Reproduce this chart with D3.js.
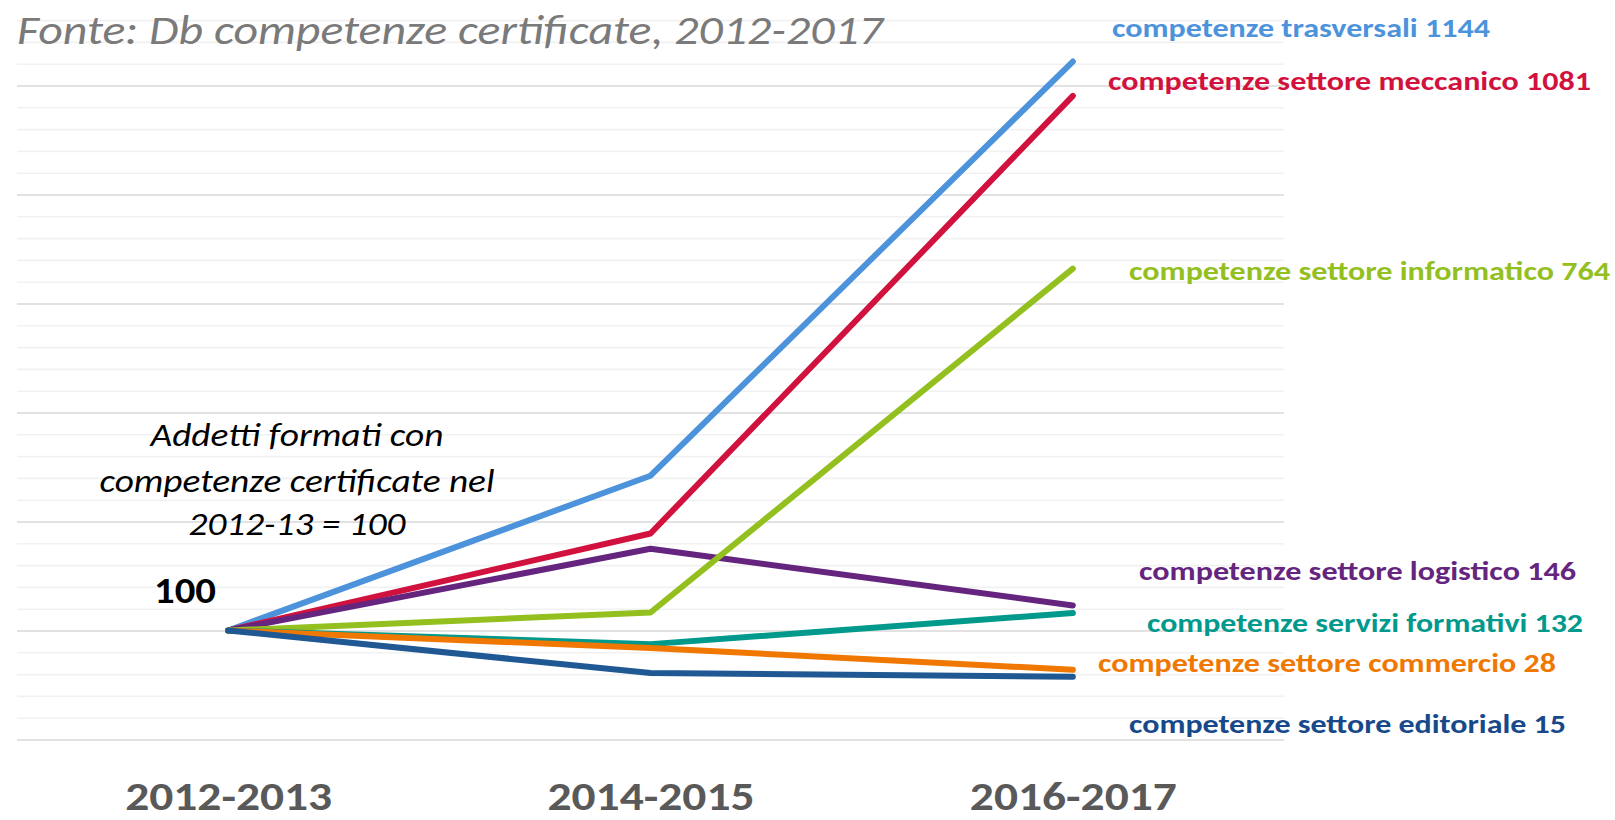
<!DOCTYPE html>
<html>
<head>
<meta charset="utf-8">
<script src="https://cdn.jsdelivr.net/npm/d3@7"></script>
<style>
  body { margin: 0; background: #fff; }
  svg { display: block; }
  text { font-family: Carlito, Calibri, "Open Sans", sans-serif; }
</style>
</head>
<body>
<svg width="1615" height="820"></svg>
<script>
// periods on the x axis
var periods = ["2012-2013", "2014-2015", "2016-2017"];

// index numbers, 2012-13 = 100
var seriesNames = [
  "competenze trasversali",
  "competenze settore meccanico",
  "competenze settore logistico",
  "competenze settore informatico",
  "competenze servizi formativi",
  "competenze settore commercio",
  "competenze settore editoriale"
];
var trasversali = [100, 384, 1144];
var meccanico   = [100, 278, 1081];
var logistico   = [100, 250, 146];
var informatico = [100, 133, 764];
var formativi   = [100, 75, 132];
var commercio   = [100, 68, 28];
var editoriale  = [100, 22, 15];
var seriesValues = [trasversali, meccanico, logistico, informatico, formativi, commercio, editoriale];

var lineColors  = ["#4C93DC", "#D2123E", "#65257F", "#93C01F", "#00998B", "#F07800", "#1F5893"];
var labelColors = ["#4C93DC", "#D2123E", "#65257F", "#93C01F", "#00998B", "#F07800", "#17498A"];

// where the end labels sit (start x, baseline, width)
var labelPos = [
  {x: 1112, y: 37,  w: 378},
  {x: 1108, y: 90,  w: 483},
  {x: 1139, y: 580, w: 437},
  {x: 1129, y: 280, w: 481},
  {x: 1147, y: 632, w: 436},
  {x: 1098, y: 672, w: 458},
  {x: 1129, y: 733, w: 437}
];

var svg = d3.select("svg");

var xScale = d3.scalePoint().domain(periods).range([17, 1284]).padding(0.5);
var yScale = d3.scaleLinear().domain([-100, 1300]).range([739.5, 739.5 - 1400 * 0.545]);

// gridlines: minor every 40, major every 200
var gridVals = d3.range(-100, 1301, 40);
var grid = svg.append("g")
  .attr("transform", "translate(1284,0)")
  .call(d3.axisLeft(yScale).tickValues(gridVals).tickSize(1267).tickFormat(""));
grid.select(".domain").remove();
grid.selectAll(".tick line")
  .attr("stroke", function(d) { return (d + 100) % 200 === 0 ? "#D9D9D9" : "#F1F1F1"; })
  .attr("stroke-width", 1.6);

// title
svg.append("text")
  .attr("x", 17)
  .attr("y", 44)
  .attr("font-size", 42)
  .attr("font-style", "italic")
  .attr("fill", "#7A7A7A")
  .attr("textLength", 866)
  .attr("lengthAdjust", "spacingAndGlyphs")
  .text("Fonte: Db competenze certificate, 2012-2017");

// annotation
var note = [
  {t: "Addetti formati con", y: 446, w: 293},
  {t: "competenze certificate nel", y: 492, w: 395},
  {t: "2012-13 = 100", y: 535, w: 217}
];
svg.selectAll(".note")
  .data(note)
  .enter().append("text")
  .attr("class", "note")
  .attr("x", function(d) { return 297 - d.w / 2; })
  .attr("y", function(d) { return d.y; })
  .attr("font-size", 33)
  .attr("font-style", "italic")
  .attr("fill", "#000")
  .attr("textLength", function(d) { return d.w; })
  .attr("lengthAdjust", "spacingAndGlyphs")
  .text(function(d) { return d.t; });

svg.append("text")
  .attr("x", 154)
  .attr("y", 603)
  .attr("font-size", 36)
  .attr("font-weight", "bold")
  .attr("fill", "#000")
  .attr("textLength", 62)
  .attr("lengthAdjust", "spacingAndGlyphs")
  .text(trasversali[0]);

// x axis labels
var xAxis = svg.append("g")
  .attr("transform", "translate(0,810)")
  .call(d3.axisBottom(xScale).tickSize(0).tickPadding(0));
xAxis.select(".domain").remove();
xAxis.selectAll(".tick text")
  .attr("dy", 0)
  .attr("y", 0)
  .attr("font-size", 40)
  .attr("font-weight", "bold")
  .attr("fill", "#595959")
  .attr("font-family", "Carlito, Calibri, 'Open Sans', sans-serif")
  .attr("textLength", 207)
  .attr("lengthAdjust", "spacingAndGlyphs");

// lines
var line = d3.line()
  .x(function(d, i) { return xScale(periods[i]); })
  .y(function(d) { return yScale(d); });

svg.selectAll(".serie")
  .data(seriesValues)
  .enter().append("path")
  .attr("class", "serie")
  .attr("d", line)
  .attr("fill", "none")
  .attr("stroke", function(d, i) { return lineColors[i]; })
  .attr("stroke-width", 6)
  .attr("stroke-linecap", "round")
  .attr("stroke-linejoin", "round");

// end labels
svg.selectAll(".lbl")
  .data(seriesValues)
  .enter().append("text")
  .attr("class", "lbl")
  .attr("x", function(d, i) { return labelPos[i].x; })
  .attr("y", function(d, i) { return labelPos[i].y; })
  .attr("font-size", 27)
  .attr("font-weight", "bold")
  .attr("fill", function(d, i) { return labelColors[i]; })
  .attr("textLength", function(d, i) { return labelPos[i].w; })
  .attr("lengthAdjust", "spacingAndGlyphs")
  .text(function(d, i) { return seriesNames[i] + " " + d[d.length - 1]; });
</script>
</body>
</html>
